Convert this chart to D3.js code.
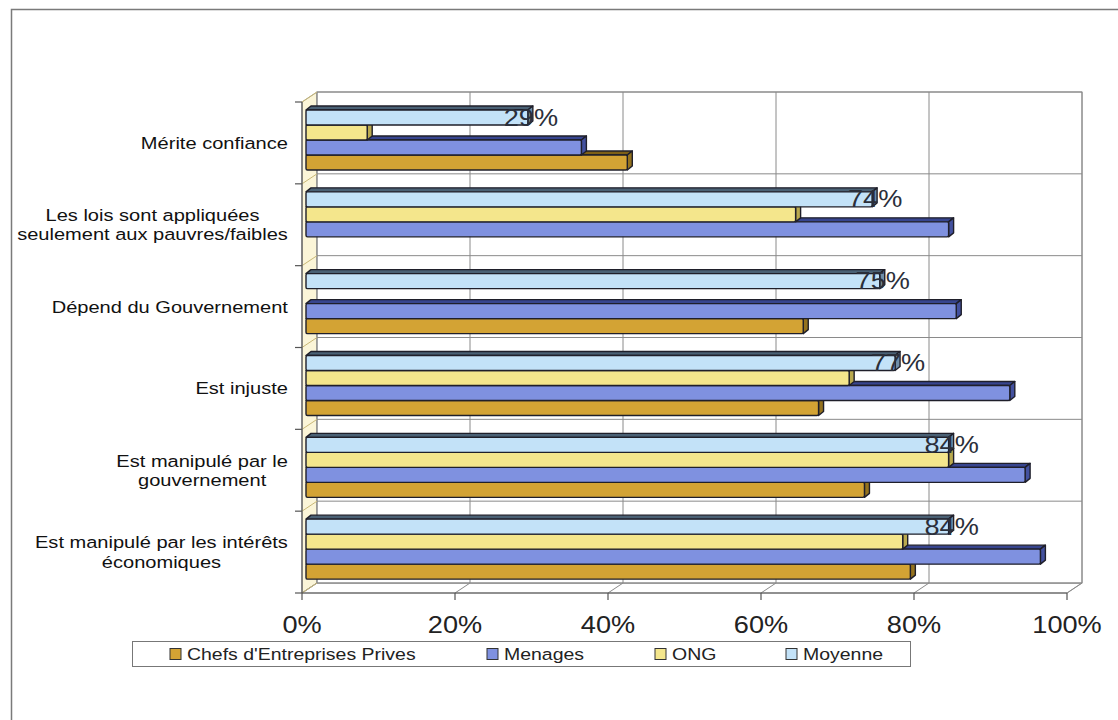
<!DOCTYPE html>
<html>
<head>
<meta charset="utf-8">
<script src="https://cdn.jsdelivr.net/npm/d3@7"></script>
<style>
	body { margin: 0; background: #fff; }
	text { font-family: "Liberation Sans", Arial, sans-serif; }
</style>
</head>
<body>
<div id="viz"></div>
<script>
// categories top to bottom, multi-line labels split on \n
const categories = [
	'Mérite confiance',
	'Les lois sont appliquées\nseulement aux pauvres/faibles',
	'Dépend du Gouvernement',
	'Est injuste',
	'Est manipulé par le\ngouvernement',
	'Est manipulé par les intérêts\néconomiques'
];
const seriesNames = ['Chefs d\'Entreprises Prives', 'Menages', 'ONG', 'Moyenne'];
const chefs = [42, null, 65, 67, 73, 79];
const menages = [36, 84, 85, 92, 94, 96];
const ong = [8, 64, null, 71, 84, 78];
const moyenne = [29, 74, 75, 77, 84, 84];
const xTicks = [0, 20, 40, 60, 80, 100];

const width = 1118, height = 720;
const depthX = 15, depthY = -10; // 3d offset of the back wall
const sx = 1.18; // the source is stretched horizontally

const colors = {
	'Chefs d\'Entreprises Prives': { front: '#d3a334', top: '#7d5f16', side: '#94721e' },
	'Menages': { front: '#7f91e0', top: '#37458f', side: '#43519f' },
	'ONG': { front: '#f4e68c', top: '#9e9242', side: '#b9a94e' },
	'Moyenne': { front: '#c3e2f8', top: '#4a6175', side: '#6f8ea8' }
};

const seriesData = {
	'Chefs d\'Entreprises Prives': chefs,
	'Menages': menages,
	'ONG': ong,
	'Moyenne': moyenne
};

const svg = d3.select('#viz').append('svg')
	.attr('width', width)
	.attr('height', height);

// outer frame
svg.append('rect')
	.attr('x', 11.5).attr('y', 9.5)
	.attr('width', 1130).attr('height', 730)
	.attr('fill', '#fff')
	.attr('stroke', '#7a7a7a')
	.attr('stroke-width', 1.5);

const xScale = d3.scaleLinear().domain([0, 100]).range([302, 1067]);
const yScale = d3.scaleBand().domain(categories).range([102, 593]);
// slot order inside a group, top to bottom
const slot = d3.scaleBand().domain(['Moyenne', 'ONG', 'Menages', 'Chefs d\'Entreprises Prives'])
	.range([8, 68]);

const x0 = xScale(0), x1 = xScale(100);
const yTop = yScale.range()[0], yBot = yScale.range()[1];
const bounds = categories.map(c => yScale(c)).concat([yBot]);

// left wall
svg.append('path')
	.attr('d', `M${x0},${yTop}L${x0 + depthX},${yTop + depthY}L${x0 + depthX},${yBot + depthY}L${x0},${yBot}Z`)
	.attr('fill', '#fbf5d8')
	.attr('stroke', '#9a9a9a');

// floor
svg.append('path')
	.attr('d', `M${x0},${yBot}L${x0 + depthX},${yBot + depthY}L${x1 + depthX},${yBot + depthY}L${x1},${yBot}Z`)
	.attr('fill', '#fff')
	.attr('stroke', '#9a9a9a');

// back wall
svg.append('rect')
	.attr('x', x0 + depthX).attr('y', yTop + depthY)
	.attr('width', x1 - x0).attr('height', yBot - yTop)
	.attr('fill', '#fff')
	.attr('stroke', '#8a8a8a');

const grid = svg.append('g').attr('stroke', '#8a8a8a').attr('stroke-width', 1);
grid.selectAll('.vgrid').data(xTicks).join('line')
	.attr('x1', d => xScale(d) + depthX).attr('x2', d => xScale(d) + depthX)
	.attr('y1', yTop + depthY).attr('y2', yBot + depthY);
grid.selectAll('.hgrid').data(bounds).join('line')
	.attr('x1', x0 + depthX).attr('x2', x1 + depthX)
	.attr('y1', d => d + depthY).attr('y2', d => d + depthY);
// floor diagonals
grid.selectAll('.fdiag').data(xTicks).join('line')
	.attr('x1', d => xScale(d)).attr('y1', yBot)
	.attr('x2', d => xScale(d) + depthX).attr('y2', yBot + depthY);
// wall diagonals
svg.append('g').attr('stroke', '#c9b877')
	.selectAll('line').data(bounds).join('line')
	.attr('x1', x0).attr('y1', d => d)
	.attr('x2', x0 + depthX).attr('y2', d => d + depthY);

// axes
const axes = svg.append('g').attr('stroke', '#555').attr('stroke-width', 1.2);
axes.append('line').attr('x1', x0).attr('x2', x0).attr('y1', yTop).attr('y2', yBot);
axes.append('line').attr('x1', x0).attr('x2', x1).attr('y1', yBot).attr('y2', yBot);
axes.selectAll('.ytick').data(bounds).join('line')
	.attr('x1', x0 - 7).attr('x2', x0).attr('y1', d => d).attr('y2', d => d);
axes.selectAll('.xtick').data(xTicks).join('line')
	.attr('x1', d => xScale(d)).attr('x2', d => xScale(d))
	.attr('y1', yBot).attr('y2', yBot + 7);

// bars, drawn from the bottom slot up so upper bars cover lower top faces
const bdx = 5, bdy = -4;
const bars = svg.append('g').attr('stroke', '#1f1f2a').attr('stroke-width', 1.4).attr('stroke-linejoin', 'round');
const drawOrder = ['Chefs d\'Entreprises Prives', 'Menages', 'ONG', 'Moyenne'];
categories.forEach((cat, i) => {
	drawOrder.forEach(name => {
		const v = seriesData[name][i];
		if (v == null) return;
		const c = colors[name];
		const left = xScale(0) + 4;
		const right = xScale(v) + 4;
		const y = yScale(cat) + slot(name);
		const h = slot.bandwidth();
		const g = bars.append('g');
		g.append('path')
			.attr('d', `M${left},${y}L${left + bdx},${y + bdy}L${right + bdx},${y + bdy}L${right},${y}Z`)
			.attr('fill', c.top);
		g.append('path')
			.attr('d', `M${right},${y}L${right + bdx},${y + bdy}L${right + bdx},${y + h + bdy}L${right},${y + h}Z`)
			.attr('fill', c.side);
		g.append('rect')
			.attr('x', left).attr('y', y)
			.attr('width', right - left).attr('height', h)
			.attr('rx', 1.5)
			.attr('fill', c.front);
	});
});

// value labels for Moyenne
categories.forEach((cat, i) => {
	const v = moyenne[i];
	svg.append('text')
		.attr('transform', `translate(${xScale(v) + 7},${yScale(cat) + slot('Moyenne') + slot.bandwidth() / 2 + 8}) scale(${sx},1)`)
		.attr('text-anchor', 'middle')
		.attr('font-size', 23)
		.attr('fill', '#2b2f3a')
		.text(v + '%');
});

// x tick labels
svg.append('g').selectAll('text').data(xTicks).join('text')
	.attr('transform', d => `translate(${xScale(d)},633) scale(${sx},1)`)
	.attr('text-anchor', 'middle')
	.attr('font-size', 23)
	.attr('fill', '#222')
	.text(d => d + '%');

// category labels: block right-aligned, lines centred
const labelRight = 288, lineH = 19.5;
categories.forEach(cat => {
	const lines = cat.split('\n');
	const g = svg.append('g');
	const cy = yScale(cat) + yScale.bandwidth() / 2;
	const texts = lines.map((ln, k) => g.append('text')
		.attr('text-anchor', 'middle')
		.attr('font-size', 17)
		.attr('fill', '#111')
		.attr('y', (k - (lines.length - 1) / 2) * lineH + 6)
		.text(ln));
	const w = d3.max(texts, t => t.node().getComputedTextLength()) * sx;
	g.attr('transform', `translate(${labelRight - w / 2},${cy}) scale(${sx},1)`);
});

// legend
const legend = svg.append('g');
legend.append('rect')
	.attr('x', 132.5).attr('y', 641.5)
	.attr('width', 778).attr('height', 25)
	.attr('fill', '#fff')
	.attr('stroke', '#777');
const legendX = [170, 487, 655, 786];
seriesNames.forEach((name, i) => {
	legend.append('rect')
		.attr('x', legendX[i]).attr('y', 648.5)
		.attr('width', 11).attr('height', 11)
		.attr('fill', colors[name].front)
		.attr('stroke', '#333');
	legend.append('text')
		.attr('transform', `translate(${legendX[i] + 17},660) scale(${sx},1)`)
		.attr('font-size', 16.5)
		.attr('fill', '#222')
		.text(name);
});
</script>
</body>
</html>
